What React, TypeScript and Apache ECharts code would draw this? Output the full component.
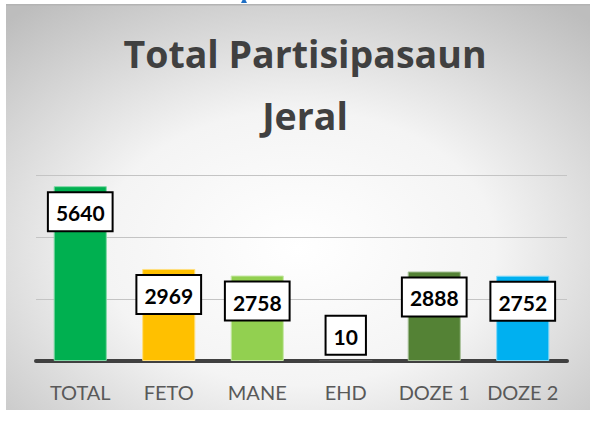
import React, { useEffect, useRef } from "react";
import * as echarts from "echarts";

const categories = ["TOTAL", "FETO", "MANE", "EHD", "DOZE 1", "DOZE 2"];
const values = [5640, 2969, 2758, 10, 2888, 2752];
const barColors = ["#00B050", "#FFC000", "#92D050", "#A5A5A5", "#548235", "#00B0F0"];
const barBorders = ["#7fd8a6", "#ffdf80", "#c8e8a8", "transparent", "#a9c19a", "#80d8f8"];
const titleText = "Total Partisipasaun\nJeral";

export default function App() {
  const ref = useRef<HTMLDivElement>(null);
  useEffect(() => {
    if (!ref.current) return;
    const chart = echarts.init(ref.current, undefined, { renderer: "svg" });
    chart.setOption({
      animation: false,
      title: {
        text: titleText,
        left: 300,
        top: 17,
        textAlign: "center",
        textStyle: {
          fontFamily: "Open Sans",
          fontWeight: "bold",
          fontSize: 37.5,
          lineHeight: 62,
          color: "#404040",
        },
      },
      graphic: [
        {
          type: "rect",
          z: -10,
          silent: true,
          shape: { x: 6, y: 4, width: 584, height: 406 },
          style: {
            fill: new echarts.graphic.RadialGradient(0.5, 0.6, 0.75, [
              { offset: 0, color: "#ffffff" },
              { offset: 0.45, color: "#f4f4f4" },
              { offset: 1, color: "#bdbdbd" },
            ]),
          },
        },
        {
          type: "rect",
          z: -9,
          silent: true,
          shape: { x: 6, y: 4, width: 584, height: 1.5 },
          style: { fill: "#b3b3b3" },
        },
        {
          type: "polygon",
          z: -8,
          silent: true,
          shape: { points: [[242.5, 0], [245.5, 0], [247, 3], [241, 3]] },
          style: { fill: "#1f6fc5" },
        },
      ],
      grid: { left: 36, right: 23, top: 175, bottom: 60, containLabel: false },
      xAxis: {
        type: "category",
        data: categories,
        axisLine: { show: true, lineStyle: { color: "#404040", width: 4 } },
        axisTick: { show: false },
        axisLabel: {
          interval: 0,
          color: "#595959",
          fontFamily: "Lato",
          fontSize: 20,
          margin: 21,
        },
      },
      yAxis: {
        type: "value",
        min: 0,
        max: 6000,
        interval: 2000,
        axisLabel: { show: false },
        axisLine: { show: false },
        axisTick: { show: false },
        splitLine: { lineStyle: { color: "#c4c4c4", width: 1 } },
      },
      series: [
        {
          type: "bar",
          barWidth: "60%",
          data: values.map((v, i) => ({
            value: v,
            itemStyle: { color: barColors[i], borderColor: barBorders[i], borderWidth: v < 500 ? 0 : 1 },
            label: v < 500 ? { position: "top", distance: 7 } : undefined,
          })),
          label: {
            show: true,
            position: "insideTop",
            distance: 7,
            backgroundColor: "#ffffff",
            borderColor: "#000000",
            borderWidth: 2,
            padding: [7, 7, 5, 7],
            fontFamily: "Lato",
            fontWeight: "bold",
            fontSize: 21,
            lineHeight: 25,
            color: "#000000",
          },
        },
      ],
    });
    return () => chart.dispose();
  }, []);
  return (
    <div
      ref={ref}
      style={{ position: "fixed", left: 0, top: 0, width: 590, height: 421, background: "#ffffff" }}
    />
  );
}
